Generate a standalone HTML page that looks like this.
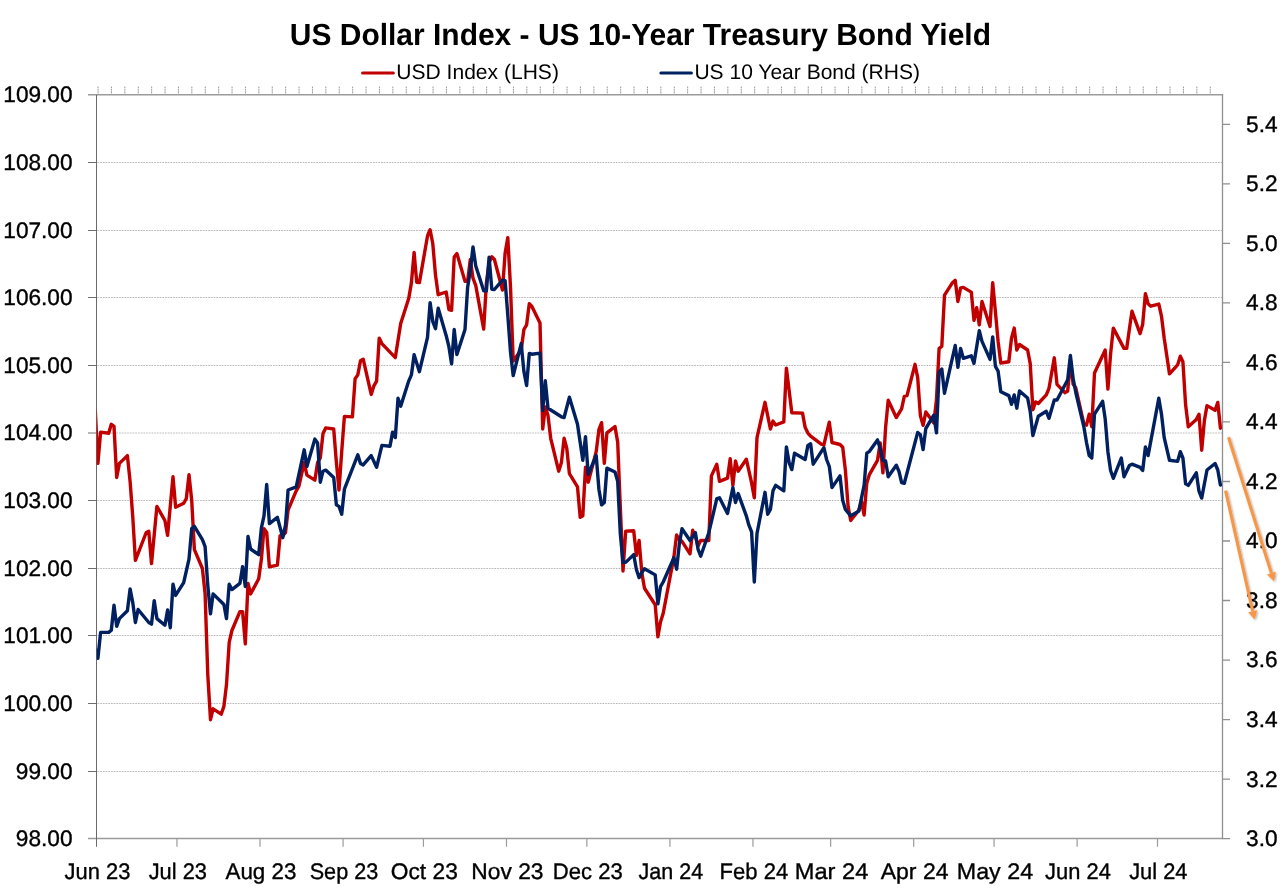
<!DOCTYPE html>
<html lang="en"><head><meta charset="utf-8"><title>US Dollar Index - US 10-Year Treasury Bond Yield</title>
<style>html,body{margin:0;padding:0;background:#fff;}body{width:1280px;height:888px;overflow:hidden;}svg{display:block;}text{font-family:"Liberation Sans",sans-serif;fill:#000;text-rendering:geometricPrecision;}.ax{font-size:22.5px;stroke:#000;stroke-width:0.35px;}.ttl{font-size:30.6px;font-weight:bold;}.lg{font-size:21px;}</style></head><body>
<svg width="1280" height="888" viewBox="0 0 1280 888">
<rect width="1280" height="888" fill="#fff"/>
<path d="M97.5,162.50H1222.0M97.5,230.50H1222.0M97.5,297.50H1222.0M97.5,365.50H1222.0M97.5,433.00H1222.0M97.5,500.50H1222.0M97.5,568.50H1222.0M97.5,635.50H1222.0M97.5,703.50H1222.0M97.5,771.50H1222.0" stroke="#adadad" stroke-width="0.85" stroke-dasharray="1.7 1" fill="none"/>
<path d="M98.05,86.6V94M111.45,86.6V94M124.85,86.6V94M138.25,86.6V94M151.65,86.6V94M165.05,86.6V94M178.45,86.6V94M191.85,86.6V94M205.25,86.6V94M218.65,86.6V94M232.05,86.6V94M245.45,86.6V94M258.85,86.6V94M272.25,86.6V94M285.65,86.6V94M299.05,86.6V94M312.45,86.6V94M325.85,86.6V94M339.25,86.6V94M352.65,86.6V94M366.05,86.6V94M379.45,86.6V94M392.85,86.6V94M406.25,86.6V94M419.65,86.6V94M433.05,86.6V94M446.45,86.6V94M459.85,86.6V94M473.25,86.6V94M486.65,86.6V94M500.05,86.6V94M513.45,86.6V94M526.85,86.6V94M540.25,86.6V94M553.65,86.6V94M567.05,86.6V94M580.45,86.6V94M593.85,86.6V94M607.25,86.6V94M620.65,86.6V94M634.05,86.6V94M647.45,86.6V94M660.85,86.6V94M674.25,86.6V94M687.65,86.6V94M701.05,86.6V94M714.45,86.6V94M727.85,86.6V94M741.25,86.6V94M754.65,86.6V94M768.05,86.6V94M781.45,86.6V94M794.85,86.6V94M808.25,86.6V94M821.65,86.6V94M835.05,86.6V94M848.45,86.6V94M861.85,86.6V94M875.25,86.6V94M888.65,86.6V94M902.05,86.6V94M915.45,86.6V94M928.85,86.6V94M942.25,86.6V94M955.65,86.6V94M969.05,86.6V94M982.45,86.6V94M995.85,86.6V94M1009.25,86.6V94M1022.65,86.6V94M1036.05,86.6V94M1049.45,86.6V94M1062.85,86.6V94M1076.25,86.6V94M1089.65,86.6V94M1103.05,86.6V94M1116.45,86.6V94M1129.85,86.6V94M1143.25,86.6V94M1156.65,86.6V94M1170.05,86.6V94M1183.45,86.6V94M1196.85,86.6V94M1210.25,86.6V94" stroke="#8a8a8a" stroke-width="0.9" stroke-dasharray="1.6 0.7" fill="none"/>
<path d="M88,94.8H1223.1M88,838.6H1222.5" stroke="#9b9b9b" stroke-width="1.5" fill="none"/>
<path d="M1222.5,94.1V839.3M1222.5,838.60H1230M1222.5,779.08H1230M1222.5,719.56H1230M1222.5,660.04H1230M1222.5,600.52H1230M1222.5,541.00H1230M1222.5,481.48H1230M1222.5,421.96H1230M1222.5,362.44H1230M1222.5,302.92H1230M1222.5,243.40H1230M1222.5,183.88H1230M1222.5,124.36H1230" stroke="#8f8f8f" stroke-width="1.3" fill="none"/>
<path d="M96.5,94.8V846.8" stroke="#6a6a6a" stroke-width="1" fill="none"/>
<path d="M88,162.50H96.5M88,230.50H96.5M88,297.50H96.5M88,365.50H96.5M88,433.00H96.5M88,500.50H96.5M88,568.50H96.5M88,635.50H96.5M88,703.50H96.5M88,771.50H96.5" stroke="#555" stroke-width="0.85" fill="none"/>
<path d="M176.97,838.6V846.8M260.02,838.6V846.8M343.07,838.6V846.8M423.44,838.6V846.8M506.49,838.6V846.8M586.86,838.6V846.8M669.91,838.6V846.8M752.95,838.6V846.8M830.65,838.6V846.8M913.69,838.6V846.8M994.06,838.6V846.8M1077.11,838.6V846.8M1157.48,838.6V846.8" stroke="#9b9b9b" stroke-width="1.2" fill="none"/>
<clipPath id="plot"><rect x="96.7" y="94" width="1125.8" height="745"/></clipPath>
<g clip-path="url(#plot)" fill="none" stroke-linejoin="round" stroke-linecap="round" stroke-width="3.4">
<path d="M95.3,410.6 L97.9,463.4 L100.6,432.1 L108.7,433.2 L111.3,424.3 L114.0,426.3 L116.7,477.5 L119.4,463.4 L127.4,455.6 L130.1,481.4 L132.8,517.4 L135.4,560.4 L146.2,532.5 L148.8,531.3 L151.5,563.5 L156.9,506.4 L164.9,520.5 L167.6,535.4 L173.0,476.7 L175.6,507.2 L183.7,503.3 L186.3,498.6 L189.0,474.8 L191.7,500.2 L194.4,549.7 L202.4,568.5 L205.1,593.6 L207.8,675.1 L210.5,719.7 L213.1,708.8 L221.2,714.2 L223.9,706.4 L226.5,684.5 L229.2,642.3 L231.9,630.5 L239.9,611.7 L242.6,611.7 L245.3,643.8 L248.0,583.4 L250.6,593.9 L258.7,578.7 L261.4,559.1 L264.0,528.6 L266.7,532.5 L269.4,566.9 L277.4,565.1 L280.1,535.6 L282.8,535.5 L285.5,532.5 L288.1,510.0 L296.2,490.8 L298.9,486.1 L304.2,462.6 L306.9,475.1 L314.9,480.1 L317.6,462.6 L320.3,457.9 L323.0,433.6 L325.7,427.9 L333.7,429.0 L336.4,462.6 L339.0,490.0 L341.7,451.6 L344.4,416.4 L352.4,416.9 L355.1,378.8 L357.8,374.9 L360.5,360.8 L363.2,359.2 L371.2,394.4 L373.9,385.8 L376.6,381.1 L379.2,338.1 L381.9,343.6 L395.3,357.6 L400.7,323.6 L408.7,298.6 L411.4,282.9 L414.1,252.4 L416.7,282.2 L419.4,282.6 L427.5,236.0 L430.1,229.7 L432.8,243.8 L435.5,275.1 L438.2,294.7 L446.2,292.0 L448.9,309.5 L451.6,310.3 L454.2,257.1 L456.9,253.5 L465.0,281.4 L467.6,281.4 L470.3,259.5 L473.0,278.2 L475.7,285.3 L483.7,329.1 L486.4,282.9 L489.1,262.6 L491.8,256.7 L494.4,259.5 L502.5,290.0 L505.1,253.2 L507.8,237.6 L510.5,287.0 L513.2,361.0 L521.2,350.0 L523.9,329.5 L526.6,324.8 L529.3,303.6 L531.9,306.4 L540.0,322.9 L542.7,429.0 L545.3,407.0 L548.0,415.6 L550.7,438.3 L558.7,471.2 L561.4,462.6 L564.1,438.3 L566.8,448.5 L569.4,473.6 L577.5,486.9 L580.2,517.4 L582.8,515.8 L585.5,467.3 L588.2,482.2 L596.2,451.6 L598.9,429.7 L601.6,422.7 L604.3,463.4 L606.9,432.9 L615.0,426.6 L617.7,442.3 L620.3,507.0 L623.0,571.0 L625.7,531.1 L633.7,530.7 L636.4,555.4 L639.1,540.5 L641.8,572.6 L644.5,588.2 L655.2,604.7 L657.9,636.8 L660.5,621.9 L663.2,613.3 L673.9,556.9 L676.6,535.0 L679.3,539.7 L682.0,541.3 L690.0,553.8 L692.7,530.3 L695.4,536.6 L698.0,546.0 L700.7,540.5 L708.8,540.5 L711.4,475.9 L716.8,464.2 L719.5,481.4 L727.5,478.2 L730.2,458.7 L732.9,485.3 L735.5,461.0 L738.2,471.2 L746.3,459.2 L751.6,482.9 L754.3,497.8 L757.0,437.6 L765.0,402.3 L770.4,429.0 L773.0,421.1 L775.7,425.0 L783.8,421.9 L786.4,368.2 L789.1,390.1 L791.8,412.8 L802.5,413.1 L805.2,427.6 L807.9,433.1 L810.6,436.2 L821.3,444.1 L823.9,444.9 L829.3,422.2 L832.0,442.5 L840.0,444.5 L842.7,447.2 L845.4,470.4 L848.1,506.4 L850.7,520.5 L858.8,510.3 L861.5,501.7 L864.1,515.0 L866.8,482.9 L869.5,474.3 L877.5,460.3 L880.2,443.0 L882.9,472.8 L885.6,427.6 L888.2,400.3 L896.3,417.5 L901.6,408.9 L904.3,396.3 L907.0,395.6 L915.0,364.3 L917.7,377.6 L920.4,415.9 L923.1,425.3 L925.8,412.0 L933.8,422.9 L936.5,399.5 L939.1,348.6 L941.8,346.3 L944.5,295.2 L952.5,282.7 L955.2,280.3 L957.9,301.5 L960.6,287.9 L963.3,287.4 L971.3,292.1 L974.0,320.3 L976.7,307.7 L979.3,324.9 L982.0,301.5 L990.0,326.5 L992.7,282.7 L995.4,311.6 L998.1,341.4 L1000.8,363.0 L1008.8,361.7 L1011.5,338.2 L1014.2,328.1 L1016.8,350.0 L1019.5,344.5 L1027.6,350.0 L1030.2,363.3 L1032.9,409.7 L1035.6,401.9 L1038.3,403.5 L1046.3,394.9 L1049.0,388.3 L1054.3,357.8 L1057.0,384.4 L1065.1,392.7 L1067.7,391.0 L1070.4,360.0 L1073.1,384.0 L1075.8,388.0 L1083.8,423.6 L1086.5,425.1 L1089.2,414.2 L1091.8,426.7 L1094.5,373.0 L1105.2,350.0 L1107.9,389.1 L1110.6,353.9 L1113.3,328.1 L1124.0,348.4 L1126.7,348.4 L1129.4,328.9 L1132.0,311.3 L1140.1,333.6 L1142.7,324.2 L1145.4,293.6 L1148.1,303.8 L1150.8,306.2 L1158.8,304.1 L1161.5,316.3 L1164.2,338.2 L1169.5,373.9 L1177.6,364.9 L1180.3,356.2 L1182.9,361.7 L1185.6,404.8 L1188.3,426.7 L1196.3,419.6 L1199.0,414.2 L1201.7,450.2 L1204.4,420.4 L1207.0,405.6 L1215.1,410.3 L1217.8,402.4 L1220.4,428.2" stroke="#c00000"/>
<path d="M95.3,649.0 L97.9,658.3 L100.6,632.4 L108.7,632.4 L111.3,630.3 L114.0,605.3 L116.7,626.4 L119.4,618.6 L127.4,610.8 L130.1,588.9 L132.8,602.9 L135.4,622.5 L138.1,609.5 L148.8,622.5 L151.5,624.1 L154.2,600.6 L156.9,618.6 L164.9,625.2 L167.6,610.0 L170.3,627.7 L173.0,584.2 L175.6,595.4 L183.7,582.6 L189.0,559.1 L191.7,528.6 L194.4,526.3 L202.4,539.6 L205.1,546.6 L207.8,585.7 L210.5,613.9 L213.1,593.9 L223.9,604.5 L226.5,618.6 L229.2,584.2 L231.9,589.6 L239.9,583.4 L242.6,566.6 L245.3,586.5 L248.0,536.4 L250.6,549.0 L258.7,554.7 L261.4,527.8 L264.0,515.8 L266.7,484.5 L269.4,523.6 L277.4,517.4 L282.8,537.7 L285.5,525.2 L288.1,490.0 L296.2,486.9 L304.2,449.8 L306.9,466.5 L314.9,439.1 L317.6,443.0 L320.3,482.2 L323.0,471.2 L325.7,470.1 L333.7,477.5 L336.4,504.9 L339.0,506.4 L341.7,514.2 L344.4,489.2 L357.8,454.8 L360.5,463.4 L363.2,464.9 L371.2,455.6 L376.6,467.3 L381.9,445.4 L390.0,446.2 L392.6,432.1 L395.3,437.6 L398.0,398.3 L400.7,406.2 L408.7,381.1 L411.4,374.9 L414.1,354.8 L419.4,371.7 L427.5,337.3 L430.1,302.6 L432.8,321.6 L435.5,328.7 L438.2,308.3 L446.2,335.7 L448.9,346.7 L451.6,363.9 L454.2,329.5 L456.9,354.5 L465.0,329.5 L467.6,287.6 L470.3,270.4 L473.0,246.9 L475.7,265.7 L483.7,290.8 L486.4,290.8 L489.1,257.1 L491.8,289.2 L494.4,289.5 L502.5,280.1 L505.1,280.6 L507.8,315.0 L510.5,352.0 L513.2,375.6 L521.2,343.6 L523.9,371.4 L526.6,385.5 L529.3,353.4 L531.9,354.2 L540.0,353.1 L542.7,410.5 L545.3,380.8 L548.0,408.2 L561.4,416.8 L564.1,417.5 L569.4,397.2 L577.5,424.3 L582.8,460.3 L585.5,436.8 L588.2,474.3 L596.2,455.6 L598.9,489.2 L601.6,504.9 L604.3,502.5 L606.9,468.1 L615.0,472.0 L617.7,481.4 L620.3,533.5 L623.0,562.4 L625.7,562.4 L633.7,554.6 L636.4,569.5 L639.1,577.6 L641.8,572.6 L644.5,568.7 L655.2,574.9 L657.9,603.9 L660.5,586.7 L663.2,582.0 L673.9,557.7 L676.6,569.2 L679.3,544.4 L682.0,528.8 L690.0,540.5 L695.4,532.7 L698.0,549.1 L700.7,556.2 L708.8,532.7 L716.8,498.6 L719.5,497.8 L727.5,513.5 L732.9,487.6 L735.5,502.5 L738.2,493.6 L746.3,515.8 L748.9,525.2 L751.6,531.9 L754.3,582.0 L757.0,533.5 L765.0,492.3 L767.7,514.2 L770.4,509.5 L773.0,490.8 L775.7,485.3 L783.8,490.8 L786.4,446.9 L789.1,462.6 L791.8,469.6 L794.5,453.2 L805.2,459.5 L807.9,445.4 L810.6,443.8 L813.2,464.2 L823.9,447.7 L826.6,459.5 L829.3,466.5 L832.0,487.6 L840.0,475.9 L842.7,500.2 L845.4,509.5 L850.7,515.8 L858.8,511.1 L864.1,485.3 L866.8,453.2 L869.5,451.3 L877.5,439.9 L880.2,448.5 L882.9,460.3 L885.6,461.0 L888.2,476.7 L896.3,465.2 L899.0,471.5 L901.6,482.5 L904.3,483.3 L917.7,432.4 L920.4,434.8 L923.1,449.6 L925.8,428.5 L933.8,415.2 L936.5,432.9 L939.1,372.1 L941.8,369.0 L944.5,393.2 L955.2,345.5 L957.9,367.2 L960.6,348.4 L963.3,358.3 L971.3,355.8 L974.0,363.3 L979.3,330.7 L982.0,341.4 L990.0,359.4 L992.7,337.0 L995.4,366.4 L998.1,371.1 L1000.8,391.7 L1008.8,395.6 L1011.5,404.3 L1014.2,394.9 L1016.8,408.2 L1019.5,391.0 L1027.6,398.0 L1030.2,411.3 L1032.9,435.6 L1038.3,416.3 L1046.3,411.3 L1049.0,418.3 L1054.3,400.0 L1057.0,400.0 L1067.7,379.7 L1070.4,355.5 L1073.1,378.2 L1075.8,392.5 L1083.8,426.5 L1086.5,442.5 L1089.2,455.6 L1091.8,458.0 L1094.5,414.2 L1102.6,401.3 L1105.2,418.9 L1107.9,451.7 L1110.6,470.5 L1113.3,478.3 L1121.3,458.0 L1124.0,476.8 L1129.4,465.5 L1132.0,464.2 L1140.1,467.4 L1142.7,470.5 L1145.4,447.0 L1148.1,455.6 L1158.8,398.2 L1161.5,414.2 L1164.2,437.6 L1169.5,460.3 L1177.6,461.4 L1180.3,451.7 L1182.9,458.0 L1185.6,483.8 L1188.3,485.4 L1196.3,472.8 L1199.0,491.2 L1201.7,498.1 L1207.0,470.0 L1215.1,463.5 L1217.8,470.0 L1220.4,485.0" stroke="#002060"/>
</g>
<text class="ttl" x="289.8" y="44.5" textLength="701.2" lengthAdjust="spacingAndGlyphs">US Dollar Index - US 10-Year Treasury Bond Yield</text>
<path d="M362.6,73H393.3" stroke="#c00000" stroke-width="3.1" stroke-linecap="round" fill="none"/>
<text class="lg" x="396.3" y="79.2" textLength="162.6" lengthAdjust="spacingAndGlyphs">USD Index (LHS)</text>
<path d="M660.9,73H691.4" stroke="#002060" stroke-width="3.1" stroke-linecap="round" fill="none"/>
<text class="lg" x="694.4" y="79.2" textLength="225.6" lengthAdjust="spacingAndGlyphs">US 10 Year Bond (RHS)</text>
<text class="ax" x="3.3" y="102.2" textLength="69.2" lengthAdjust="spacingAndGlyphs">109.00</text>
<text class="ax" x="3.3" y="169.9" textLength="69.2" lengthAdjust="spacingAndGlyphs">108.00</text>
<text class="ax" x="3.3" y="237.9" textLength="69.2" lengthAdjust="spacingAndGlyphs">107.00</text>
<text class="ax" x="3.3" y="304.9" textLength="69.2" lengthAdjust="spacingAndGlyphs">106.00</text>
<text class="ax" x="3.3" y="372.9" textLength="69.2" lengthAdjust="spacingAndGlyphs">105.00</text>
<text class="ax" x="3.3" y="440.4" textLength="69.2" lengthAdjust="spacingAndGlyphs">104.00</text>
<text class="ax" x="3.3" y="507.9" textLength="69.2" lengthAdjust="spacingAndGlyphs">103.00</text>
<text class="ax" x="3.3" y="575.9" textLength="69.2" lengthAdjust="spacingAndGlyphs">102.00</text>
<text class="ax" x="3.3" y="642.9" textLength="69.2" lengthAdjust="spacingAndGlyphs">101.00</text>
<text class="ax" x="3.3" y="710.9" textLength="69.2" lengthAdjust="spacingAndGlyphs">100.00</text>
<text class="ax" x="15.8" y="778.9" textLength="56.7" lengthAdjust="spacingAndGlyphs">99.00</text>
<text class="ax" x="15.8" y="846.0" textLength="56.7" lengthAdjust="spacingAndGlyphs">98.00</text>
<text class="ax" x="1246.1" y="846.0" textLength="31.5" lengthAdjust="spacingAndGlyphs">3.0</text>
<text class="ax" x="1246.1" y="786.5" textLength="31.5" lengthAdjust="spacingAndGlyphs">3.2</text>
<text class="ax" x="1246.1" y="727.0" textLength="31.5" lengthAdjust="spacingAndGlyphs">3.4</text>
<text class="ax" x="1246.1" y="667.4" textLength="31.5" lengthAdjust="spacingAndGlyphs">3.6</text>
<text class="ax" x="1246.1" y="607.9" textLength="31.5" lengthAdjust="spacingAndGlyphs">3.8</text>
<text class="ax" x="1246.1" y="548.4" textLength="31.5" lengthAdjust="spacingAndGlyphs">4.0</text>
<text class="ax" x="1246.1" y="488.9" textLength="31.5" lengthAdjust="spacingAndGlyphs">4.2</text>
<text class="ax" x="1246.1" y="429.4" textLength="31.5" lengthAdjust="spacingAndGlyphs">4.4</text>
<text class="ax" x="1246.1" y="369.8" textLength="31.5" lengthAdjust="spacingAndGlyphs">4.6</text>
<text class="ax" x="1246.1" y="310.3" textLength="31.5" lengthAdjust="spacingAndGlyphs">4.8</text>
<text class="ax" x="1246.1" y="250.8" textLength="31.5" lengthAdjust="spacingAndGlyphs">5.0</text>
<text class="ax" x="1246.1" y="191.3" textLength="31.5" lengthAdjust="spacingAndGlyphs">5.2</text>
<text class="ax" x="1246.1" y="131.8" textLength="31.5" lengthAdjust="spacingAndGlyphs">5.4</text>
<text class="ax" x="64.6" y="878.7" textLength="65.8" lengthAdjust="spacingAndGlyphs">Jun 23</text>
<text class="ax" x="148.7" y="878.7" textLength="58.3" lengthAdjust="spacingAndGlyphs">Jul 23</text>
<text class="ax" x="225.5" y="878.7" textLength="70.9" lengthAdjust="spacingAndGlyphs">Aug 23</text>
<text class="ax" x="309.7" y="878.7" textLength="68.6" lengthAdjust="spacingAndGlyphs">Sep 23</text>
<text class="ax" x="390.8" y="878.7" textLength="67.0" lengthAdjust="spacingAndGlyphs">Oct 23</text>
<text class="ax" x="471.3" y="878.7" textLength="72.2" lengthAdjust="spacingAndGlyphs">Nov 23</text>
<text class="ax" x="552.8" y="878.7" textLength="69.9" lengthAdjust="spacingAndGlyphs">Dec 23</text>
<text class="ax" x="638.5" y="878.7" textLength="64.6" lengthAdjust="spacingAndGlyphs">Jan 24</text>
<text class="ax" x="719.6" y="878.7" textLength="68.6" lengthAdjust="spacingAndGlyphs">Feb 24</text>
<text class="ax" x="794.7" y="878.7" textLength="73.6" lengthAdjust="spacingAndGlyphs">Mar 24</text>
<text class="ax" x="880.7" y="878.7" textLength="67.8" lengthAdjust="spacingAndGlyphs">Apr 24</text>
<text class="ax" x="956.8" y="878.7" textLength="76.3" lengthAdjust="spacingAndGlyphs">May 24</text>
<text class="ax" x="1045.1" y="878.7" textLength="65.8" lengthAdjust="spacingAndGlyphs">Jun 24</text>
<text class="ax" x="1129.2" y="878.7" textLength="58.3" lengthAdjust="spacingAndGlyphs">Jul 24</text>
<defs><filter id="sh" x="-50%" y="-20%" width="200%" height="140%"><feGaussianBlur in="SourceAlpha" stdDeviation="1.2"/><feOffset dx="1.2" dy="1.2" result="o"/><feComponentTransfer><feFuncA type="linear" slope="0.35"/></feComponentTransfer><feMerge><feMergeNode/><feMergeNode in="SourceGraphic"/></feMerge></filter></defs>
<g filter="url(#sh)">
<path d="M1228.5,437.3L1271.4,573.1" stroke="#f79646" stroke-width="3.1" fill="none"/><path d="M1274.0,581.3L1267.0,574.5L1275.8,571.7Z" fill="#f79646"/>
<path d="M1225.6,490.6L1252.7,611.2" stroke="#f79646" stroke-width="3.1" fill="none"/><path d="M1254.6,619.6L1248.2,612.2L1257.3,610.2Z" fill="#f79646"/>
</g>
</svg></body></html>
